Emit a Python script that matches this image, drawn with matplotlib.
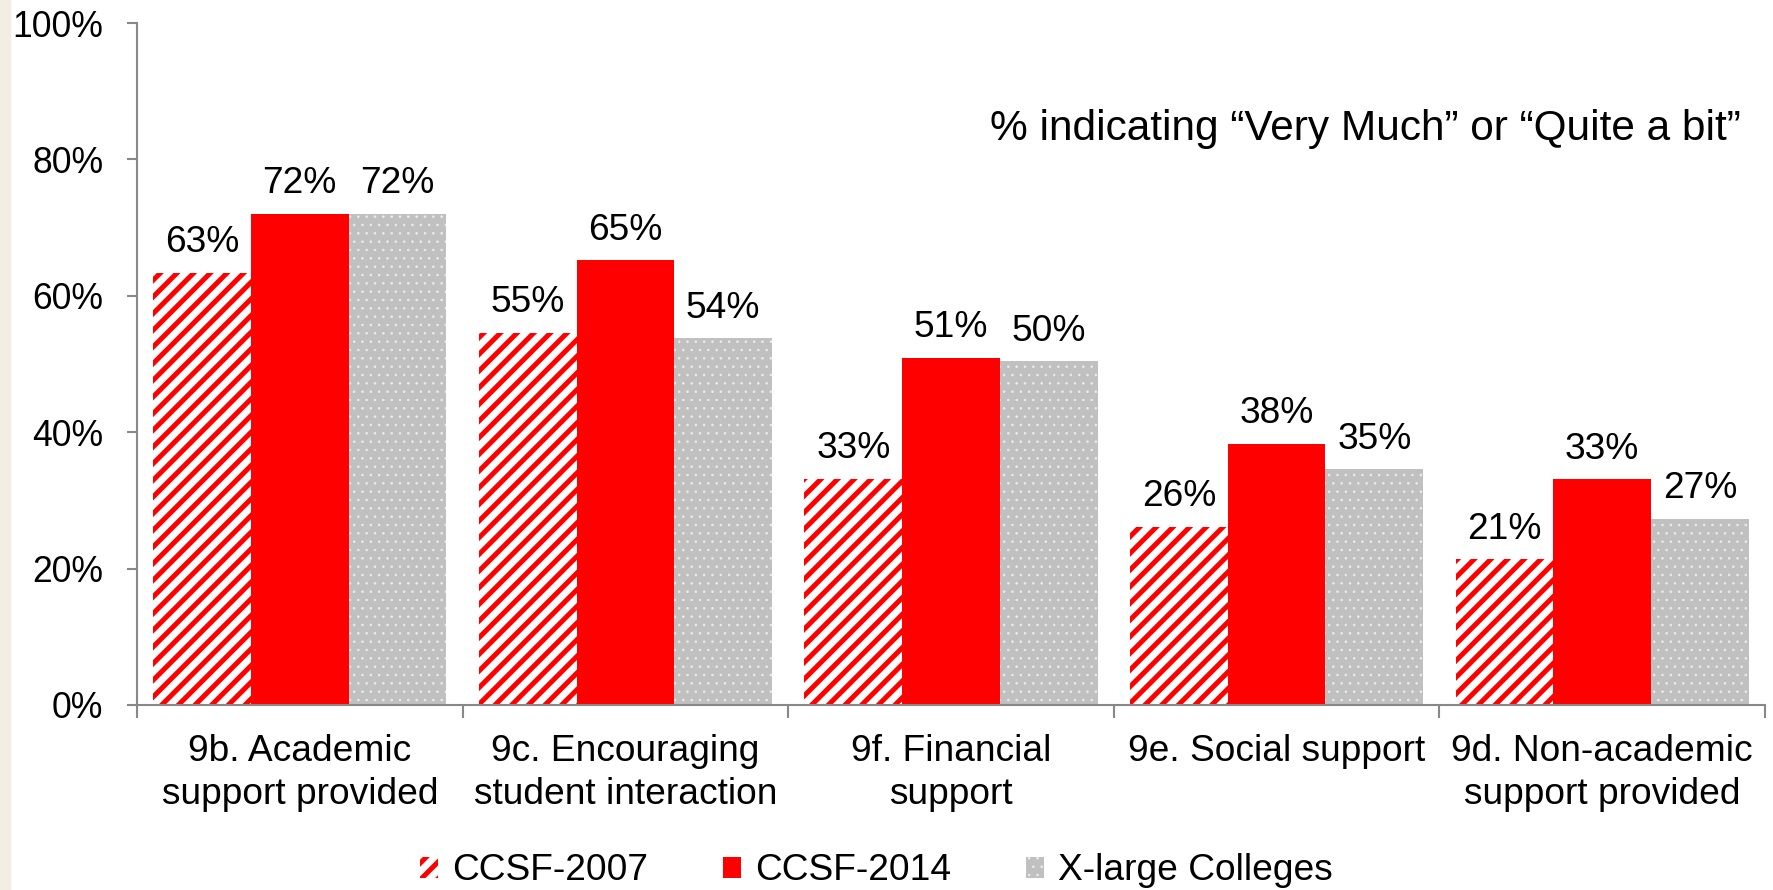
import numpy as np
import matplotlib.pyplot as plt
from matplotlib.patches import Rectangle, Patch

plt.rcParams['font.family'] = ['Liberation Sans', 'DejaVu Sans']

# data
categories = ['9b. Academic\nsupport provided', '9c. Encouraging\nstudent interaction',
              '9f. Financial\nsupport', '9e. Social support',
              '9d. Non-academic\nsupport provided']
ccsf_2007 = [63.4, 54.6, 33.2, 26.1, 21.4]
ccsf_2014 = [72.0, 65.2, 50.9, 38.3, 33.1]
xlarge = [72.0, 53.8, 50.4, 34.6, 27.3]
series_names = ['CCSF-2007', 'CCSF-2014', 'X-large Colleges']

fig = plt.figure(figsize=(17.74, 8.9), dpi=100)
fig.patches.append(Rectangle((0, 0), 10 / 1774, 1, transform=fig.transFigure,
                             color='#f2eee4', zorder=0))
ax = fig.add_axes([137 / 1774, 1 - 705 / 890, (1765 - 137) / 1774, (705 - 23) / 890])

x = np.arange(len(categories))
w = 0.3
with plt.rc_context({'hatch.linewidth': 3.6}):
    b1 = ax.bar(x - w, ccsf_2007, w, facecolor='white', edgecolor='#ff0000',
                hatch='//', linewidth=0)
b2 = ax.bar(x, ccsf_2014, w, color='#ff0000', linewidth=0)
with plt.rc_context({'hatch.linewidth': 0.6}):
    b3 = ax.bar(x + w, xlarge, w, facecolor='#c0c0c0', edgecolor='#ececec',
                hatch='..', linewidth=0)

for bars, vals in [(b1, ccsf_2007), (b2, ccsf_2014), (b3, xlarge)]:
    for bar, v in zip(bars, vals):
        ax.annotate(f'{round(v):.0f}%', (bar.get_x() + bar.get_width() / 2, v),
                    xytext=(0, 9), textcoords='offset points',
                    ha='center', va='bottom', fontsize=26.7)

ax.set_xlim(-0.5, len(categories) - 0.5)
ax.set_ylim(0, 100)
ax.set_yticks(range(0, 101, 20))
ax.set_yticklabels([f'{t}%' for t in range(0, 101, 20)], fontsize=25.6)
ax.set_xticks(np.arange(-0.5, len(categories), 1))
ax.set_xticklabels([])
ax.set_xticks(x, minor=True)
ax.set_xticklabels(categories, minor=True, fontsize=26.7, linespacing=1.3)
ax.tick_params(axis='x', which='minor', length=0, pad=21)
ax.tick_params(axis='x', which='major', length=9.5, color='#888888', width=1.5, direction='out')
ax.tick_params(axis='y', length=7.2, color='#888888', width=1.5, pad=17)

for s in ['top', 'right']:
    ax.spines[s].set_visible(False)
for s in ['left', 'bottom']:
    ax.spines[s].set_color('#888888')
    ax.spines[s].set_linewidth(1.5)

ax.text(0.985, 0.845, '% indicating \u201cVery Much\u201d or \u201cQuite a bit\u201d',
        transform=ax.transAxes, ha='right', va='center', fontsize=30.5)

handles = [Patch(facecolor='white', edgecolor='#ff0000', hatch='//', linewidth=0),
           Patch(facecolor='#ff0000', linewidth=0),
           Patch(facecolor='#c0c0c0', edgecolor='#ececec', hatch='..', linewidth=0)]
leg = fig.legend(handles, series_names, loc='center', bbox_to_anchor=(0.494, 1 - 871 / 890),
                 ncol=3, frameon=False, fontsize=26.7, handlelength=0.5, handleheight=0.5,
                 handletextpad=0.38, columnspacing=2.0)
# legend patches are new objects, so give them the same hatch widths as the bars
for p, lw in zip(leg.get_patches(), [3.6, 1.0, 0.6]):
    if hasattr(p, 'set_hatch_linewidth'):
        p.set_hatch_linewidth(lw)
    else:
        p._hatch_linewidth = lw

fig.savefig('out.png', dpi=100)
